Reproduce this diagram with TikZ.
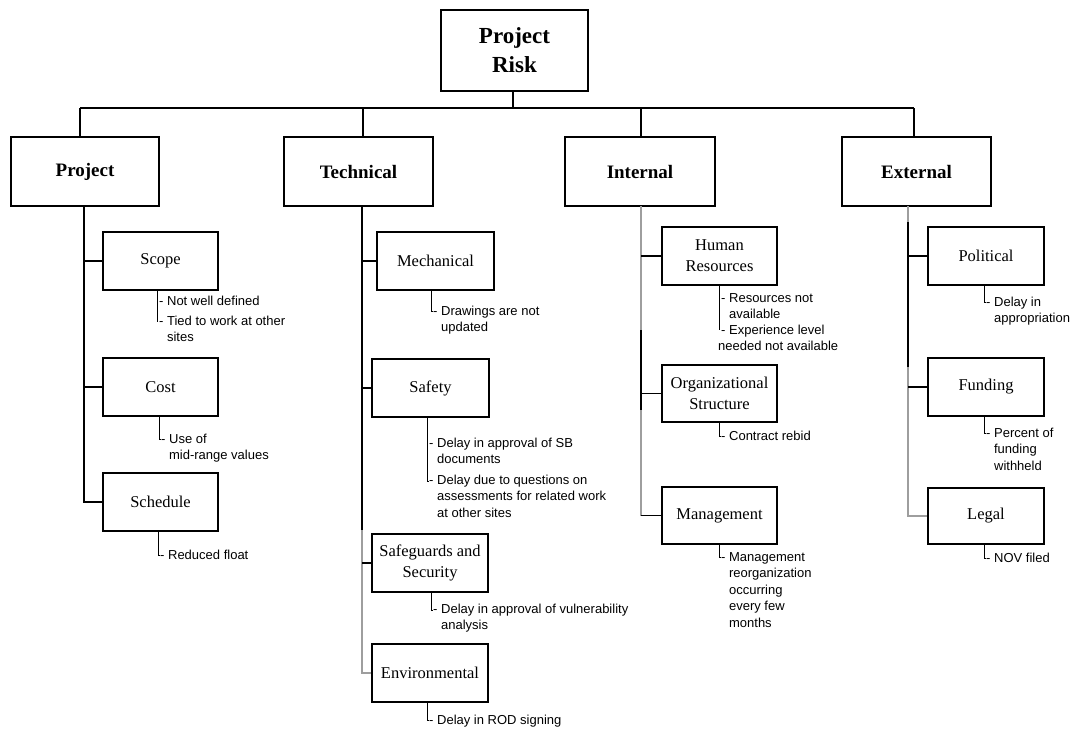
\documentclass[tikz,border=0pt]{standalone}
\usepackage{fontspec}
\setmainfont{Liberation Serif}
\newfontfamily\notefamily{Liberation Sans}
\newcommand\hang{\hspace*{7.9pt}}
\begin{document}
\begin{tikzpicture}[x=1pt,y=-1pt,
  box/.style={draw=black, line width=1.3pt, fill=white, align=center, inner sep=2pt},
  rootbox/.style={box, minimum width=147pt, minimum height=81pt, font=\fontsize{23}{29}\selectfont\bfseries},
  catbox/.style={box, minimum width=149pt, minimum height=69pt, font=\fontsize{19}{23}\selectfont\bfseries},
  subbox/.style={box, minimum width=116pt, minimum height=58pt, font=\fontsize{16.5}{21}\selectfont},
  link/.style={line width=1.3pt, draw=black},
  glink/.style={line width=1.3pt, draw=black!38},
  tick/.style={line width=1pt, draw=black},
  note/.style={anchor=north west, inner sep=0pt, align=left, font=\fontsize{13}{16.5}\selectfont\notefamily}]
\useasboundingbox (0,0) rectangle (1075,729);

% ---------- top levels ----------
\node[rootbox] (root) at (514.5,50.5) {Project\\Risk};
\node[catbox, minimum width=148pt] (proj) at (85,171.5) {Project};
\node[catbox] (tech) at (358.5,171.5) {Technical};
\node[catbox, minimum width=150pt] (int) at (640,171.5) {Internal};
\node[catbox] (ext) at (916.5,171.5) {External};

\coordinate (bus) at (513,108);
\coordinate (dp) at (80,108);
\coordinate (dt) at (363,108);
\coordinate (di) at (641,108);
\coordinate (de) at (914,108);
\draw[link] (root.south -| bus) -- (bus);
\draw[link] (dp) -- (de);
\draw[link] (dp) -- (dp |- proj.north);
\draw[link] (dt) -- (dt |- tech.north);
\draw[link] (di) -- (di |- int.north);
\draw[link] (de) -- (de |- ext.north);

% ---------- Project branch ----------
\node[subbox, minimum width=115pt] (scope) at (160.5,261) {Scope};
\node[subbox, minimum width=115pt] (cost) at (160.5,387) {Cost};
\node[subbox, minimum width=115pt] (sched) at (160.5,502) {Schedule};
\coordinate (ps) at (84,206);
\draw[link] (ps) |- (sched.west);
\draw[link] (scope.west) -- (scope.west -| ps);
\draw[link] (cost.west) -- (cost.west -| ps);

\node[note] (sc1) at (159,293.5) {\strut- Not well defined};
\node[note] (sc2) at (159,313.5) {\strut- Tied to work at other\\\hang sites};
\coordinate (scl) at (157,322);
\draw[tick] (scope.south -| scl) -- (scl);

\node[note] (co1) at (161,431.5) {\strut- Use of\\\hang mid-range values};
\coordinate (col) at (159,439);
\draw[tick] (cost.south -| col) -- (col) -- (col -| co1.west);

\node[note] (sh1) at (160,547.5) {\strut- Reduced float};
\coordinate (shl) at (158,555);
\draw[tick] (sched.south -| shl) -- (shl) -- (shl -| sh1.west);

% ---------- Technical branch ----------
\node[subbox, minimum width=117pt] (mech) at (435.5,261) {Mechanical};
\node[subbox, minimum width=117pt] (safe) at (430.5,388) {Safety};
\node[subbox] (secu) at (430,563) {Safeguards and\\Security};
\node[subbox] (env) at (430,673) {Environmental};
\coordinate (ts) at (362,206);
\coordinate (tsm) at (362,530);
\draw[glink] (ts) |- (env.west);
\draw[link] (ts) -- (tsm);
\draw[link] (mech.west) -- (mech.west -| ts);
\draw[link] (safe.west) -- (safe.west -| ts);
\draw[link] (secu.west) -- (secu.west -| ts);

\node[note] (me1) at (433,303.5) {\strut- Drawings are not\\\hang updated};
\coordinate (mel) at (431,311);
\draw[tick] (mech.south -| mel) -- (mel) -- (mel -| me1.west);

\node[note] (sa1) at (429,435.5) {\strut- Delay in approval of SB\\\hang documents};
\node[note] (sa2) at (429,472.5) {\strut- Delay due to questions on\\\hang assessments for related work\\\hang at other sites};
\coordinate (sal) at (427,481);
\draw[tick] (safe.south -| sal) -- (sal) -- (sal -| sa2.west);

\node[note] (se1) at (433,601.5) {\strut- Delay in approval of vulnerability\\\hang analysis};
\coordinate (sel) at (431,610);
\draw[tick] (secu.south -| sel) -- (sel) -- (sel -| se1.west);

\node[note] (en1) at (429,712.5) {\strut- Delay in ROD signing};
\coordinate (enl) at (427,720);
\draw[tick] (env.south -| enl) -- (enl) -- (enl -| en1.west);

% ---------- Internal branch ----------
\node[subbox, minimum width=115pt] (hr) at (719.5,256) {Human\\Resources};
\node[subbox, minimum width=115pt, minimum height=57pt] (org) at (719.5,393.5) {Organizational\\Structure};
\node[subbox, minimum width=115pt, minimum height=57pt] (mgmt) at (719.5,515.5) {Management};
\coordinate (is) at (641,206);
\coordinate (isa) at (641,330);
\coordinate (isb) at (641,410);
\draw[glink] (is) |- (mgmt.west);
\draw[link] (isa) -- (isb);
\draw[link] (hr.west) -- (hr.west -| is);
\draw[link] (org.west) -- (org.west -| is);
\draw[link] (mgmt.west) -- (mgmt.west -| is);

\node[note] (hr1) at (721,290.5) {\strut- Resources not\\\hang available};
\node[note] (hr2) at (721,322.5) {\strut- Experience level\\\hspace*{-3pt}needed not available};
\coordinate (hrl) at (719,330);
\draw[tick] (hr.south -| hrl) -- (hrl);

\node[note] (or1) at (721,428.5) {\strut- Contract rebid};
\coordinate (orl) at (719,436);
\draw[tick] (org.south -| orl) -- (orl) -- (orl -| or1.west);

\node[note] (mg1) at (721,549.5) {\strut- Management\\\hang reorganization\\\hang occurring\\\hang every few\\\hang months};
\coordinate (mgl) at (719,557);
\draw[tick] (mgmt.south -| mgl) -- (mgl) -- (mgl -| mg1.west);

% ---------- External branch ----------
\node[subbox] (pol) at (986,256) {Political};
\node[subbox] (fund) at (986,387) {Funding};
\node[subbox, minimum height=56pt] (legal) at (986,516) {Legal};
\coordinate (es) at (908,206);
\coordinate (esa) at (908,222);
\coordinate (esb) at (908,367);
\draw[glink] (es) |- (legal.west);
\draw[link] (esa) -- (esb);
\draw[link] (pol.west) -- (pol.west -| es);
\draw[link] (fund.west) -- (fund.west -| es);

\node[note] (po1) at (986,294.5) {\strut- Delay in\\\hang appropriation};
\coordinate (pol1) at (984,302);
\draw[tick] (pol.south -| pol1) -- (pol1) -- (pol1 -| po1.west);

\node[note] (fu1) at (986,425.5) {\strut- Percent of\\\hang funding\\\hang withheld};
\coordinate (ful) at (984,433);
\draw[tick] (fund.south -| ful) -- (ful) -- (ful -| fu1.west);

\node[note] (le1) at (986,550.5) {\strut- NOV filed};
\coordinate (lel) at (984,558);
\draw[tick] (legal.south -| lel) -- (lel) -- (lel -| le1.west);
\end{tikzpicture}
\end{document}
